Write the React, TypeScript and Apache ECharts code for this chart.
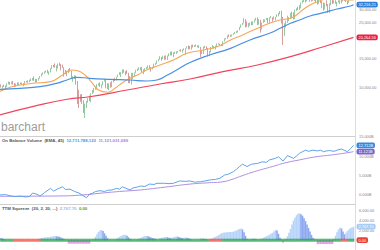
import React, { useEffect, useRef } from "react";
import * as echarts from "echarts";

const FONT = "'Liberation Sans', Arial, sans-serif";

// Monthly candles (thousands), index 0 = Jun 2004
const firstOpen = 10.19;
const closes = [
  10.44, 10.14, 10.17, 10.08, 10.03, 10.43, 10.78,
  10.49, 10.77, 10.5, 10.19, 10.47, 10.27, 10.64, 10.48, 10.57, 10.44, 10.81, 10.72,
  10.86, 10.99, 11.11, 11.37, 11.17, 11.15, 11.19, 11.38, 11.68, 12.08, 12.22, 12.46,
  12.62, 12.27, 12.35, 13.06, 13.63, 13.41, 13.21, 13.36, 13.9, 13.93, 13.37, 13.26,
  12.65, 12.27, 12.26, 12.82, 12.64, 11.35, 11.38, 11.54, 10.85, 9.33, 8.83, 8.78,
  8.0, 7.06, 7.61, 8.17, 8.5, 8.45, 9.17, 9.5, 9.71, 9.71, 10.34, 10.43,
  10.07, 10.33, 10.86, 11.01, 10.14, 9.77, 10.47, 10.01, 10.79, 11.12, 11.01, 11.58,
  11.89, 12.23, 12.32, 12.81, 12.57, 12.41, 12.14, 11.61, 10.91, 11.96, 12.05, 12.22,
  12.63, 12.95, 13.21, 13.21, 12.39, 12.88, 13.01, 13.09, 13.44, 13.1, 13.03, 13.1,
  13.86, 14.05, 14.58, 14.84, 15.12, 14.91, 15.5, 14.81, 15.13, 15.55, 16.09, 16.58,
  15.7, 16.32, 16.46, 16.58, 16.72, 16.83, 16.56, 17.1, 17.04, 17.39, 17.83, 17.82,
  17.16, 18.13, 17.78, 17.84, 18.01, 17.62, 17.69, 16.53, 16.28, 17.66, 17.72, 17.43,
  16.47, 16.52, 17.69, 17.77, 17.79, 17.93, 18.43, 18.4, 18.31, 18.14, 19.12, 19.76,
  19.86, 20.81, 20.66, 20.94, 21.01, 21.35, 21.89, 21.95, 22.41, 23.38, 24.27, 24.72,
  26.15, 25.03, 24.1, 24.16, 24.42, 24.27, 25.42, 25.96, 26.46, 25.12, 25.54, 23.33,
  25.0, 25.92, 25.93, 26.59, 24.82, 26.6, 26.86, 26.4, 26.92, 27.05, 28.05, 28.54,
  28.26, 25.41, 21.92, 24.35, 25.38, 25.81, 26.43, 28.43, 27.78, 26.5, 29.64, 30.61,
  29.98, 30.93, 32.98, 33.87, 34.53, 34.5, 34.94, 35.36, 33.84, 35.82, 34.48, 36.34,
  35.13, 33.89, 34.68, 32.98, 33.04, 30.78, 32.85, 31.51, 28.73, 32.73, 34.59, 33.15,
  34.09, 32.66, 33.27, 34.1, 32.91, 34.41, 35.56, 34.72, 33.51, 33.05, 35.95, 37.69,
  38.15, 39.0,
];
const highs = [
  10.48, 10.44, 10.23, 10.38, 10.24, 10.57, 10.85,
  10.8, 10.84, 10.94, 10.62, 10.54, 10.71, 10.72, 10.7, 10.7, 10.6, 10.93, 10.94,
  11.04, 11.14, 11.33, 11.41, 11.67, 11.26, 11.26, 11.42, 11.72, 12.16, 12.36, 12.53,
  12.69, 12.8, 12.53, 13.12, 13.69, 13.72, 14.02, 13.66, 14.0, 14.2, 13.93, 13.77,
  13.28, 12.77, 12.62, 12.93, 13.14, 12.64, 11.7, 11.87, 11.79, 10.93, 9.65, 9.03,
  9.09, 8.32, 7.93, 8.24, 8.58, 8.88, 9.19, 9.63, 9.92, 10.12, 10.45, 10.58,
  10.73, 10.42, 10.9, 11.26, 11.21, 10.59, 10.58, 10.72, 10.95, 11.25, 11.45, 11.62,
  11.99, 12.39, 12.39, 12.88, 12.88, 12.57, 12.75, 12.28, 11.72, 12.28, 12.28, 12.33,
  12.79, 13.03, 13.29, 13.3, 13.34, 12.9, 13.11, 13.33, 13.65, 13.66, 13.29, 13.36,
  13.97, 14.15, 14.62, 14.89, 15.54, 15.34, 15.64, 15.66, 15.71, 15.68, 16.17, 16.59,
  16.59, 16.4, 16.59, 16.63, 16.74, 16.98, 17.15, 17.1, 17.35, 17.4, 17.89, 18.1,
  17.95, 18.24, 18.29, 18.18, 18.35, 18.13, 18.14, 17.71, 16.93, 17.8, 17.98, 17.89,
  17.43, 16.7, 17.72, 18.17, 17.94, 18.02, 18.62, 18.67, 18.54, 18.4, 19.15, 19.99,
  20.13, 20.85, 21.17, 21.07, 21.11, 21.53, 21.93, 22.18, 22.42, 23.49, 24.33, 24.88,
  26.62, 26.31, 25.45, 24.86, 25.09, 25.4, 25.46, 26.17, 26.77, 26.95, 26.28, 25.98,
  25.06, 26.24, 26.16, 26.7, 26.7, 26.91, 27.4, 26.92, 27.31, 27.12, 28.17, 28.7,
  29.37, 29.57, 27.1, 24.76, 25.76, 27.58, 27.01, 28.66, 29.2, 28.9, 30.05, 30.64,
  31.27, 32.01, 33.26, 34.26, 35.09, 34.85, 35.17, 35.63, 35.44, 35.89, 36.57, 36.68,
  36.95, 35.82, 35.37, 35.49, 34.12, 33.27, 32.91, 34.28, 32.5, 32.88, 34.59, 34.71,
  34.34, 34.33, 33.57, 34.26, 34.26, 34.59, 35.68, 35.68, 34.98, 34.0, 35.95, 37.78,
  38.58, 39.28,
];
const lows = [
  10.2, 9.96, 9.79, 10.05, 9.75, 10.03, 10.42,
  10.37, 10.42, 10.4, 10.01, 10.1, 10.25, 10.26, 10.4, 10.36, 10.16, 10.4, 10.7,
  10.65, 10.73, 10.9, 11.0, 10.97, 10.7, 10.74, 11.0, 11.3, 11.62, 11.95, 12.12,
  12.33, 12.21, 11.94, 12.35, 12.95, 13.27, 13.21, 12.52, 13.05, 13.52, 12.72, 13.17,
  11.63, 12.06, 11.73, 12.2, 12.48, 11.29, 10.83, 11.27, 10.37, 7.88, 7.45, 8.15,
  7.91, 6.95, 6.47, 7.44, 8.05, 8.21, 8.09, 9.1, 9.25, 9.66, 9.68, 10.24,
  10.06, 9.84, 10.3, 10.86, 9.87, 9.74, 9.61, 9.94, 10.01, 10.72, 10.93, 11.02,
  11.55, 11.89, 11.56, 12.09, 12.3, 11.86, 12.09, 10.6, 10.6, 10.4, 11.23, 11.74,
  12.22, 12.61, 12.76, 12.71, 12.4, 12.04, 12.49, 12.98, 13.04, 13.05, 12.47, 12.88,
  13.1, 13.7, 13.94, 14.42, 14.76, 14.55, 14.91, 14.76, 14.77, 14.72, 15.52, 15.7,
  15.7, 15.34, 16.04, 16.02, 16.33, 16.67, 16.56, 16.33, 16.9, 15.86, 17.3, 17.07,
  17.14, 17.04, 17.58, 17.71, 17.79, 17.59, 17.4, 15.37, 16.01, 16.01, 17.39, 17.13,
  15.45, 15.5, 16.41, 17.48, 17.33, 17.06, 17.71, 18.35, 17.99, 17.96, 17.88, 19.12,
  19.68, 19.83, 20.41, 20.38, 20.55, 21.0, 21.28, 21.6, 21.71, 22.42, 23.24, 24.14,
  24.74, 23.36, 23.51, 23.34, 23.91, 24.08, 24.12, 25.02, 25.78, 24.12, 24.27, 21.71,
  22.64, 24.88, 25.21, 26.0, 24.78, 24.68, 26.6, 25.34, 26.08, 25.74, 27.05, 27.33,
  28.17, 24.68, 18.21, 20.74, 23.36, 24.84, 25.52, 26.28, 26.54, 26.14, 26.27, 29.51,
  29.86, 29.86, 30.55, 32.79, 33.47, 33.27, 33.74, 34.68, 33.61, 33.68, 34.01, 34.01,
  33.15, 32.27, 32.63, 32.91, 30.64, 29.65, 30.14, 31.51, 28.72, 28.66, 32.02, 32.57,
  32.81, 32.66, 31.43, 33.24, 32.59, 32.8, 33.7, 34.03, 33.48, 32.33, 33.06, 35.87,
  37.12, 37.8,
];

// Moving averages: [month index, value in thousands]
const maOrange = [
  [0, 9.4], [7, 10.0], [14, 10.33], [22, 10.58], [34, 10.83], [42, 11.9], [48, 12.78],
  [52, 12.65], [57, 11.9], [62, 10.58], [66, 9.62], [72, 9.32], [77, 9.86], [82, 10.67],
  [87, 11.36], [92, 11.9], [98, 12.78], [107, 13.72], [116, 14.72], [125, 16.19],
  [136, 16.96], [145, 17.77], [154, 19.54], [162, 20.99], [172, 23.07], [180, 24.78],
  [187, 25.96], [194, 26.58], [198, 27.83], [202, 29.9], [207, 32.07], [212, 33.63],
  [220, 35.0], [228, 34.6], [236, 34.5],
];
const maBlue = [
  [0, 9.72], [14, 9.86], [27, 10.09], [38, 10.58], [45, 11.09], [52, 11.52], [60, 11.36],
  [74, 11.2], [87, 11.09], [98, 10.93], [105, 11.09], [112, 11.9], [120, 13.09],
  [127, 14.21], [140, 15.8], [154, 17.37], [167, 19.55], [180, 21.49], [187, 23.06],
  [194, 24.76], [200, 25.94], [207, 27.46], [216, 28.77], [225, 30.31], [234, 31.63],
  [236, 32.21621],
];
const maRed = [
  [0, 6.76], [22, 7.6], [45, 8.44], [60, 8.75], [85, 9.62], [107, 10.48], [127, 11.25],
  [149, 12.47], [172, 13.72], [194, 15.43], [216, 17.77], [236, 20.26456],
];
const priceTicks = [10000, 15000, 25000, 30000];

// On Balance Volume (billions)
const obv = [
  [0, 0.0], [4, 0.1], [7, -0.2], [10, -0.4], [14, -0.3], [17, -0.5], [20, -0.4], [22, 0.5],
  [25, 0.2], [27, -0.3], [30, 0.6], [34, 1.7], [36, 1.0], [39, 1.6], [42, 2.1], [44, 1.4],
  [47, 1.5], [50, 0.9], [53, 0.5], [55, 0.0], [58, -0.7], [60, 0.2], [62, 0.45], [64, 0.9],
  [67, 1.1], [70, 0.9], [72, 1.2], [75, 1.3], [78, 1.7], [80, 1.5], [82, 2.1], [85, 1.6],
  [87, 1.3], [89, 1.8], [92, 2.05], [94, 2.3], [97, 2.2], [100, 2.8], [103, 2.7], [105, 3.0],
  [110, 3.0], [113, 2.9], [116, 3.0], [120, 3.6], [124, 3.5], [127, 3.6], [130, 3.3],
  [134, 3.4], [137, 3.6], [140, 3.85], [144, 4.0], [147, 4.3], [150, 5.1], [153, 5.4],
  [156, 6.0], [158, 6.6], [160, 7.3], [162, 7.9], [165, 7.3], [168, 7.9], [172, 8.1],
  [175, 8.5], [178, 8.4], [180, 9.0], [184, 9.4], [186, 9.8], [189, 8.7], [192, 10.1],
  [196, 9.4], [198, 10.0], [200, 10.7], [204, 11.5], [206, 11.2], [209, 11.5], [212, 11.3],
  [214, 11.5], [216, 11.1], [218, 11.3], [220, 11.4], [223, 11.2], [225, 11.5], [228, 11.8],
  [232, 11.1], [234, 11.9], [236, 12.711788123],
];
const obvEma = [
  [0, -0.35], [20, -0.3], [40, -0.25], [55, 0.0], [67, 0.45], [80, 0.9], [94, 1.3],
  [110, 2.0], [127, 2.8], [140, 3.15], [149, 3.4], [155, 4.0], [160, 4.7], [170, 6.0],
  [182, 7.3], [190, 8.2], [200, 9.0], [211, 9.8], [222, 10.3], [233, 10.9], [236, 11.121031089],
];

// TTM Squeeze momentum histogram: [month index, value]
const ttm = [
  [0, 500], [1, 450], [2, 350], [3, 200],
  [26, 250], [27, 350], [28, 450], [29, 500], [30, 550], [31, 600], [32, 600], [33, 650],
  [34, 700], [35, 750], [36, 800], [37, 850], [38, 800], [39, 750], [40, 700], [41, 550],
  [42, 400], [43, 250],
  [46, -700], [47, -700], [48, -700], [49, -700], [50, -700], [51, -700], [52, -700],
  [53, -700], [54, -700], [55, -700], [56, -700], [57, -700], [58, -700], [59, -700], [60, -700],
  [63, 300], [64, 700], [65, 1200], [66, 1700], [67, 2000], [68, 2100], [69, 1900],
  [70, 1400], [71, 900], [72, 400],
  [78, 300], [79, 500], [80, 700], [81, 850], [82, 1000], [83, 1100], [84, 1100], [85, 900],
  [86, 600], [87, 300],
  [93, 300], [94, 450], [95, 600], [96, 750], [97, 850], [98, 850], [99, 800], [100, 700],
  [101, 550], [102, 450], [103, 350], [104, 300],
  [107, 400], [108, 500], [109, 550], [110, 600], [111, 650], [112, 600], [113, 500],
  [114, 450], [115, 500], [116, 600], [117, 700], [118, 750], [119, 700], [120, 600],
  [121, 500], [122, 450], [123, 500], [124, 550], [125, 500], [126, 400], [127, 300],
  [134, 350], [135, 350], [136, 300], [137, 250], [138, 200],
  [140, 200], [141, 300], [142, 400], [143, 550], [144, 700], [145, 850], [146, 1000],
  [147, 1200], [148, 1400], [149, 1500], [150, 1550], [151, 1600], [152, 1600], [153, 1650],
  [154, 1650], [155, 1700], [156, 1750], [157, 1850], [158, 2000], [159, 2150], [160, 2300],
  [161, 2400], [162, 2200], [163, 1600], [164, 900], [165, 300],
  [167, 250], [168, 300], [169, 350], [170, 300], [171, 200],
  [174, 200], [175, 350], [176, 500], [177, 650], [178, 800], [179, 950], [180, 1100],
  [181, 1300], [182, 1500], [183, 1800], [184, 2100], [185, 2000], [186, 1300], [187, 500],
  [189, -500],
  [191, 300], [192, 800], [193, 1500], [194, 2300], [195, 3200], [196, 4000], [197, 4600],
  [198, 5100], [199, 5400], [200, 5500], [201, 5300], [202, 5000], [203, 4500], [204, 3900],
  [205, 3200], [206, 2500], [207, 1800], [208, 1100], [209, 500], [210, 200],
  [212, -800], [213, -800], [214, -800], [215, -800], [216, -800], [217, -800], [218, -800],
  [219, -800], [220, -800], [221, -800], [222, -800],
  [223, 300], [224, 900], [225, 1600], [226, 2200], [227, 2550], [228, 2400], [229, 1800],
  [230, 1200], [231, 1500], [232, 1900], [233, 2200], [234, 2450], [235, 2600], [236, 2767.7],
];
const squeezeOnRanges = [[10, 27], [140, 148], [228, 232]];
const squeezeValue = 0;

const fmt = (v: number, d: number) =>
  v.toLocaleString("en-US", { minimumFractionDigits: d, maximumFractionDigits: d });

const X_MIN = 0.33;
const X_MAX = 237;
const TITLE_SIZE = 4.3;
const AXIS_SIZE = 3.9;

function tagLine(value: number, text: string, bg: string) {
  return {
    silent: true,
    symbol: ["none", "none"],
    lineStyle: { width: 0, color: "transparent" },
    emphasis: { disabled: true },
    label: {
      show: true,
      position: "end",
      distance: 1.5,
      formatter: text,
      color: "#fff",
      backgroundColor: bg,
      borderRadius: 2,
      padding: [1, 2, 0.6, 2],
      fontSize: AXIS_SIZE,
      lineHeight: 4.2,
      fontFamily: FONT,
    },
    data: [{ yAxis: value }],
  };
}

function buildOption() {
  const candles = closes.map((c, i) => {
    const o = i === 0 ? firstOpen : closes[i - 1];
    const l = Math.min(lows[i], o, c);
    const h = Math.max(highs[i], o, c);
    return [i, o * 1000, c * 1000, l * 1000, h * 1000];
  });
  const toK = (arr: number[][]) => arr.map(([i, v]) => [i, v * 1000]);
  const toB = (arr: number[][]) => arr.map(([i, v]) => [i, v * 1e9]);

  const ttmBars = ttm.map(([i, v], k) => {
    const prev = k > 0 && ttm[k - 1][0] === i - 1 ? ttm[k - 1][1] : 0;
    let color = "#b6d4fb";
    if (v < 0) color = "#e39be6";
    else if (v < prev) color = "#8da7f1";
    return { value: [i, v], itemStyle: { color } };
  });
  const dots = closes.map((_, i) => {
    const on = squeezeOnRanges.some(([a, b]) => i >= a && i <= b);
    return { value: [i, squeezeValue], itemStyle: { color: on ? "#ef4b3f" : "#25a24b" } };
  });

  const lastBlue = maBlue[maBlue.length - 1][1] * 1000;
  const lastRed = maRed[maRed.length - 1][1] * 1000;
  const lastObv = obv[obv.length - 1][1] * 1e9;
  const lastEma = obvEma[obvEma.length - 1][1] * 1e9;
  const lastTtm = ttm[ttm.length - 1][1];

  const axisLabelBase = { fontSize: AXIS_SIZE, color: "#808080", fontFamily: FONT, margin: 4 };
  const xBase = {
    type: "value",
    min: X_MIN,
    max: X_MAX,
    axisLabel: { show: false },
    axisTick: { show: false },
    splitLine: { show: false },
  };

  return {
    animation: false,
    backgroundColor: "#ffffff",
    textStyle: { fontFamily: FONT },
    grid: [
      { left: 0, right: 25, top: 0, height: 136 },
      { left: 0, right: 25, top: 136, height: 68 },
      { left: 0, right: 25, top: 204, height: 54 },
    ],
    xAxis: [
      { ...xBase, gridIndex: 0, axisLine: { show: true, onZero: false, lineStyle: { color: "#cfcfcf", width: 1 } } },
      { ...xBase, gridIndex: 1, axisLine: { show: true, onZero: false, lineStyle: { color: "#cfcfcf", width: 1 } } },
      { ...xBase, gridIndex: 2, axisLine: { show: false, onZero: false } },
    ],
    yAxis: [
      {
        type: "log",
        gridIndex: 0,
        position: "right",
        min: 5016,
        max: 34437,
        axisLine: { show: true, onZero: false, lineStyle: { color: "#dcdcdc" } },
        axisTick: { show: false },
        axisLabel: { show: false },
        splitLine: { show: false },
      },
      {
        type: "value",
        gridIndex: 1,
        position: "right",
        min: -2.31e9,
        max: 15.13e9,
        splitNumber: 3,
        axisLine: { show: true, onZero: false, lineStyle: { color: "#dcdcdc" } },
        axisTick: { show: false },
        splitLine: { show: false },
        axisLabel: {
          ...axisLabelBase,
          formatter: (v: number) => {
            const q = v / 5e9;
            return Math.abs(q - Math.round(q)) < 1e-6 ? (v / 1e9).toFixed(3) + "B" : "";
          },
        },
      },
      {
        type: "value",
        gridIndex: 2,
        position: "right",
        min: -2000,
        max: 7391,
        interval: 2000,
        axisLine: { show: true, onZero: false, lineStyle: { color: "#dcdcdc" } },
        axisTick: { show: false },
        splitLine: { show: false },
        axisLabel: {
          ...axisLabelBase,
          formatter: (v: number) => (v >= 0 && v % 2000 === 0 ? fmt(v, 2) : ""),
        },
      },
    ],
    title: [
      {
        left: 2,
        top: 138.8,
        padding: 0,
        text: `{a|On Balance Volume  (EMA, 45)}  {b|${fmt(Math.round(lastObv), 0)}}  {c|${fmt(Math.round(lastEma), 0)}}`,
        textStyle: {
          fontSize: TITLE_SIZE,
          rich: {
            a: { fontSize: TITLE_SIZE, color: "#555", fontFamily: FONT },
            b: { fontSize: TITLE_SIZE, color: "#4a93e6", fontFamily: FONT },
            c: { fontSize: TITLE_SIZE, color: "#9d84dc", fontFamily: FONT },
          },
        },
      },
      {
        left: 2,
        top: 206.8,
        padding: 0,
        text: `{a|TTM Squeeze  (20, 2, 20, ...)}  {b|${fmt(lastTtm, 2)}}  {c|${fmt(squeezeValue, 2)}}`,
        textStyle: {
          fontSize: TITLE_SIZE,
          rich: {
            a: { fontSize: TITLE_SIZE, color: "#555", fontFamily: FONT },
            b: { fontSize: TITLE_SIZE, color: "#8cbcf2", fontFamily: FONT },
            c: { fontSize: TITLE_SIZE, color: "#2fa84f", fontFamily: FONT },
          },
        },
      },
    ],
    graphic: [
      {
        type: "text",
        left: 1,
        top: 121,
        silent: true,
        style: { text: "barchart", fontSize: 12, fill: "#9d9d9d", fontFamily: FONT },
      },
    ],
    series: [
      {
        type: "candlestick",
        xAxisIndex: 0,
        yAxisIndex: 0,
        data: candles,
        encode: { x: 0, y: [1, 2, 3, 4] },
        barWidth: 1.1,
        itemStyle: {
          color: "#2f9444",
          color0: "#b03838",
          borderColor: "#2f9444",
          borderColor0: "#b03838",
          borderWidth: 0.5,
        },
        markLine: {
          silent: true,
          symbol: ["none", "none"],
          lineStyle: { width: 0, color: "transparent" },
          emphasis: { disabled: true },
          label: {
            show: true,
            position: "end",
            distance: 4,
            color: "#808080",
            fontSize: AXIS_SIZE,
            fontFamily: FONT,
            formatter: (p: any) => fmt(p.value, 2),
          },
          data: priceTicks.map((v) => ({ yAxis: v })),
        },
      },
      {
        type: "line",
        xAxisIndex: 0,
        yAxisIndex: 0,
        data: toK(maRed),
        smooth: true,
        symbol: "none",
        lineStyle: { color: "#f0445c", width: 1.2 },
        markLine: tagLine(lastRed, fmt(lastRed, 2), "#e8223f"),
      },
      {
        type: "line",
        xAxisIndex: 0,
        yAxisIndex: 0,
        data: toK(maOrange),
        smooth: true,
        symbol: "none",
        lineStyle: { color: "#f6a75a", width: 1.1 },
      },
      {
        type: "line",
        xAxisIndex: 0,
        yAxisIndex: 0,
        data: toK(maBlue),
        smooth: true,
        symbol: "none",
        lineStyle: { color: "#4a90e2", width: 1.2 },
        markLine: tagLine(lastBlue, fmt(lastBlue, 2), "#2f7fd6"),
      },
      {
        type: "line",
        xAxisIndex: 1,
        yAxisIndex: 1,
        data: toB(obvEma),
        smooth: true,
        symbol: "none",
        lineStyle: { color: "#ac8fe2", width: 1 },
        markLine: tagLine(lastEma, (lastEma / 1e9).toFixed(3) + "B", "#7d63c9"),
      },
      {
        type: "line",
        xAxisIndex: 1,
        yAxisIndex: 1,
        data: toB(obv),
        symbol: "none",
        lineStyle: { color: "#5fa3ea", width: 1 },
        markLine: tagLine(lastObv, (lastObv / 1e9).toFixed(3) + "B", "#3b88da"),
      },
      {
        type: "bar",
        xAxisIndex: 2,
        yAxisIndex: 2,
        data: ttmBars,
        barWidth: 1.6,
        markLine: tagLine(lastTtm, fmt(lastTtm, 2), "#a9cbf4"),
      },
      {
        type: "scatter",
        xAxisIndex: 2,
        yAxisIndex: 2,
        data: dots,
        symbol: "rect",
        symbolSize: [1.6, 3],
        markLine: tagLine(squeezeValue, fmt(squeezeValue, 2), "#e8403a"),
      },
    ],
  };
}

export default function App() {
  const ref = useRef<HTMLDivElement>(null);
  useEffect(() => {
    const chart = echarts.init(ref.current!, null, { renderer: "svg" });
    chart.setOption(buildOption() as any);
    return () => chart.dispose();
  }, []);
  return (
    <div
      ref={ref}
      style={{ position: "fixed", left: 0, top: 0, width: 380, height: 250 }}
    />
  );
}
